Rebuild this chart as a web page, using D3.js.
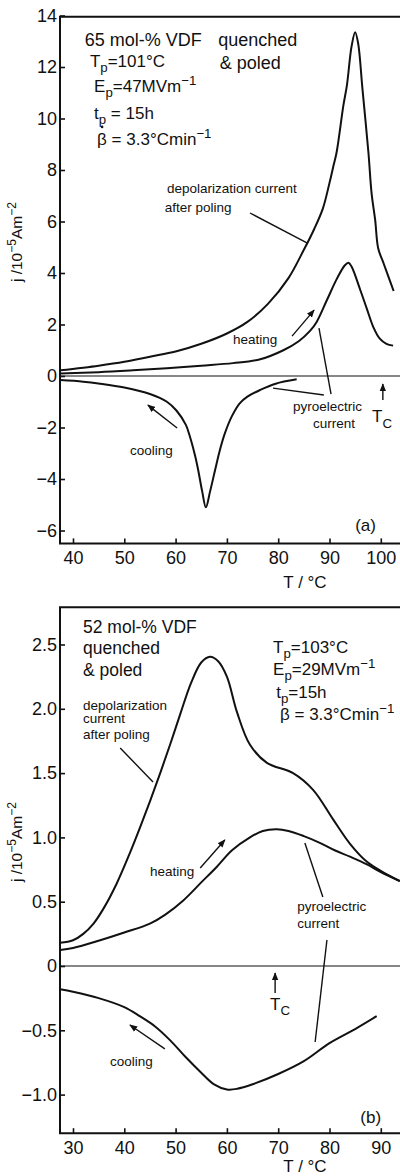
<!DOCTYPE html>
<html>
<head>
<meta charset="utf-8">
<script src="https://cdn.jsdelivr.net/npm/d3@7"></script>
<style>
  body { margin: 0; background: #fff; }
  text { font-family: "Liberation Sans", Arial, sans-serif; fill: #111; }
</style>
</head>
<body>
<svg id="chart" width="400" height="1176"></svg>
<script>
/// DATA - panel (a), 65 mol-% VDF ///  [T in °C, j in 1e-5 A m^-2]
var depolA = [[37.5,0.22],[45,0.4],[50,0.55],[55,0.75],[60,0.95],[65,1.25],[70,1.65],[74,2.1],[78,2.8],[82,3.8],[85,4.9],[87,5.7],[88.7,6.5],[90,7.5],[90.7,8.1],[91.4,8.7],[92.7,10.5],[93.4,11.3],[94.3,12.8],[95,13.35],[95.6,12.9],[96.4,11.2],[97.6,8.65],[98.2,7.1],[98.9,6.06],[99.5,4.95],[100.5,4.4],[101.5,3.85],[102.5,3.3]];
var heatA = [[37.5,0.1],[45,0.15],[51.7,0.22],[58.3,0.3],[65,0.4],[71.2,0.5],[76.5,0.65],[81,1.0],[84,1.35],[86.2,1.75],[87.5,2.1],[89.5,2.95],[91.5,3.8],[93,4.3],[93.7,4.4],[94.3,4.25],[96,3.34],[97.3,2.6],[98.5,1.92],[99.8,1.45],[101.1,1.25],[102.4,1.18]];
var coolA = [[37.5,-0.16],[42,-0.22],[45.3,-0.3],[50,-0.45],[55,-0.7],[58.3,-1.0],[60.2,-1.35],[62,-1.9],[62.8,-2.36],[63.8,-3.1],[64.4,-3.65],[65.2,-4.5],[65.9,-5.1],[66.7,-4.5],[67.7,-3.65],[68.6,-2.9],[69.6,-2.23],[71,-1.55],[72.5,-1.06],[74,-0.8],[76.5,-0.54],[79.5,-0.3],[83.6,-0.13]];
var xTicksA = [40, 50, 60, 70, 80, 90, 100];
var yTicksA = [-6, -4, -2, 0, 2, 4, 6, 8, 10, 12, 14];

/// DATA - panel (b), 52 mol-% VDF ///
var depolB = [[27.5,0.18],[30,0.2],[32,0.25],[34,0.33],[36,0.45],[38.5,0.64],[41,0.87],[43,1.07],[45,1.28],[47,1.5],[49,1.73],[51,1.97],[53,2.2],[55,2.36],[56.7,2.405],[58.3,2.37],[60,2.25],[62,1.97],[64.5,1.72],[67.8,1.58],[72.9,1.5],[76.8,1.37],[80.7,1.14],[84,0.95],[87.3,0.81],[90,0.74],[93.7,0.66]];
var heatB = [[27.5,0.125],[30,0.14],[35.3,0.2],[40,0.26],[45,0.33],[48,0.4],[51.5,0.51],[55,0.65],[58,0.77],[61,0.9],[64.5,1.0],[67,1.05],[69.7,1.063],[72,1.05],[75,1.01],[78,0.96],[81,0.9],[84,0.85],[87.3,0.79],[90,0.73],[93.7,0.66]];
var coolB = [[27.5,-0.18],[30,-0.2],[35,-0.25],[40,-0.32],[43,-0.39],[46,-0.47],[49,-0.58],[52,-0.71],[55,-0.83],[57.5,-0.92],[60,-0.96],[62,-0.955],[65,-0.92],[70,-0.84],[75,-0.74],[80,-0.6],[85,-0.49],[89.2,-0.39]];
var xTicksB = [30, 40, 50, 60, 70, 80, 90];
var yTicksB = [-1.0, -0.5, 0, 0.5, 1.0, 1.5, 2.0, 2.5];

var svg = d3.select("#chart");
var INK = "#111";

// arrow head marker
svg.append("defs").append("marker")
  .attr("id", "head")
  .attr("viewBox", "0 0 10 10")
  .attr("refX", 9).attr("refY", 5)
  .attr("markerWidth", 8).attr("markerHeight", 8)
  .attr("markerUnits", "userSpaceOnUse")
  .attr("orient", "auto")
  .append("path").attr("d", "M0,1 L10,5 L0,9 Z").attr("fill", INK);

// HELPER FUNCTION: text with sub/superscripts, parts = [[str, "sub"|"sup"|undefined], ...]
function richText(g, x, y, parts, size, anchor) {
  var t = g.append("text").attr("x", x).attr("y", y)
    .style("font-size", size + "px")
    .attr("text-anchor", anchor || "start");
  var cur = 0;
  parts.forEach(function (p) {
    var target = p[1] == "sub" ? size * 0.32 : p[1] == "sup" ? -size * 0.42 : 0;
    var s = t.append("tspan").text(p[0]).attr("dy", target - cur);
    if (p[1]) s.style("font-size", size * 0.78 + "px");
    cur = target;
  });
  return t;
}

// FUNCTION: draws one panel
function drawPanel(cfg) {
  var g = svg.append("g");
  var x = d3.scaleLinear().domain(cfg.xDom).range([73, 380.8]);
  var y = d3.scaleLinear().domain(cfg.yDom).range(cfg.yRange);
  var left = 60, right = 404;
  var top = y(cfg.yTop), bottom = y(cfg.yBottom);

  // frame (right side lies outside the picture)
  g.append("path")
    .attr("d", "M" + right + "," + top + "H" + left + "V" + bottom + "H" + right)
    .attr("fill", "none").attr("stroke", INK).attr("stroke-width", 2);

  // zero line
  g.append("line")
    .attr("x1", left).attr("x2", right)
    .attr("y1", y(0)).attr("y2", y(0))
    .attr("stroke", INK).attr("stroke-width", 1.2);

  // axes, ticks pointing inwards
  var xa = g.append("g").attr("transform", "translate(0," + bottom + ")")
    .call(d3.axisBottom(x).tickValues(cfg.xTicks).tickSize(-5).tickPadding(8));
  var ya = g.append("g").attr("transform", "translate(" + left + ",0)")
    .call(d3.axisLeft(y).tickValues(cfg.yTicks).tickSize(-5).tickPadding(3).tickFormat(cfg.yFmt));
  [xa, ya].forEach(function (a) {
    a.select(".domain").remove();
    a.selectAll(".tick line").attr("stroke", INK).attr("stroke-width", 1.6);
    a.selectAll(".tick text").style("font-size", "18px").style("font-family", "Liberation Sans, Arial, sans-serif").attr("fill", INK);
  });

  // axis titles
  g.append("text").attr("x", 305).attr("y", cfg.xTitleY)
    .attr("text-anchor", "middle").style("font-size", "17px").text("T / °C");
  var yt = richText(g, 0, 0, [["j /10"], ["−5", "sup"], ["Am"], ["−2", "sup"]], 15.5, "middle");
  yt.attr("transform", "translate(22," + cfg.yTitleY + ") rotate(-90)");

  // curves
  var line = d3.line()
    .x(function (d) { return x(d[0]); })
    .y(function (d) { return y(d[1]); })
    .curve(d3.curveCatmullRom.alpha(0.5));
  cfg.series.forEach(function (s) {
    g.append("path").datum(s)
      .attr("d", line)
      .attr("fill", "none").attr("stroke", INK).attr("stroke-width", 2);
  });

  // pointer lines and arrows
  cfg.pointers.forEach(function (p) {
    g.append("line")
      .attr("x1", x(p[0])).attr("y1", y(p[1]))
      .attr("x2", x(p[2])).attr("y2", y(p[3]))
      .attr("stroke", INK).attr("stroke-width", 1.4)
      .attr("marker-end", p[4] ? "url(#head)" : null);
  });

  // labels
  cfg.notes.forEach(function (n) {
    var t = richText(g, x(n[0]), y(n[1]), n[3], n[2]);
    // dot over beta (rate of heating) in panel (a)
    if (n[4]) {
      var b = t.node().getBBox();
      g.append("circle").attr("cx", b.x + 5).attr("cy", b.y + 1)
        .attr("r", 1.3).attr("fill", INK);
    }
  });
}

drawPanel({
  xDom: [40, 100], yDom: [0, 14], yRange: [376, 15.5],
  yTop: 13.95, yBottom: -6.5,
  xTicks: xTicksA, yTicks: yTicksA,
  yFmt: function (d) { return d < 0 ? "−" + Math.abs(d) : d; },
  xTitleY: 588, yTitleY: 242,
  series: [depolA, heatA, coolA],
  pointers: [
    [74.5, 6.33, 85.6, 5.17],
    [82.7, 1.55, 87.0, 2.56, true],
    [87.95, 1.86, 90.3, -0.7],
    [79.0, -0.47, 88.9, -0.74],
    [60.3, -2.02, 54.6, -1.13, true],
    [100.4, -0.93, 100.4, -0.31, true]
  ],
  notes: [
    [42.3, 12.82, 18, [["65 mol-% VDF"]]],
    [68.3, 12.82, 18, [["quenched"]]],
    [68.6, 11.92, 18, [["& poled"]]],
    [43.3, 12.0, 17, [["T"], ["p", "sub"], ["=101°C"]]],
    [44.1, 11.03, 17, [["E"], ["p", "sub"], ["=47MVm"], ["−1", "sup"]]],
    [44.1, 9.98, 17, [["t"], ["p", "sub"], [" = 15h"]]],
    [44.7, 8.97, 17, [["β = 3.3°Cmin"], ["−1", "sup"]], true],
    [58.3, 7.11, 13.5, [["depolarization current"]]],
    [57.9, 6.37, 13.5, [["after poling"]]],
    [71.2, 1.24, 13.5, [["heating"]]],
    [51.1, -3.07, 13.5, [["cooling"]]],
    [82.9, -1.36, 13.5, [["pyroelectric"]]],
    [86.8, -2.02, 13.5, [["current"]]],
    [98.3, -1.79, 17, [["T"], ["C", "sub"]]],
    [95.0, -6.02, 17, [["(a)"]]]
  ]
});

drawPanel({
  xDom: [30, 90], yDom: [0, 2.5], yRange: [966, 644.5],
  yTop: 2.79, yBottom: -1.3,
  xTicks: xTicksB, yTicks: yTicksB,
  yFmt: function (d) { return d == 0 ? "0" : (d < 0 ? "−" : "") + Math.abs(d).toFixed(1); },
  xTitleY: 1172, yTitleY: 842,
  series: [depolB, heatB, coolB],
  pointers: [
    [39.2, 1.695, 45.6, 1.431],
    [54.8, 0.762, 59.6, 0.98, true],
    [75.2, 0.956, 78.7, 0.537],
    [79.5, 0.202, 77.2, -0.591],
    [47.9, -0.645, 41.1, -0.459, true],
    [69.4, -0.21, 69.4, -0.054, true]
  ],
  notes: [
    [31.95, 2.589, 17.5, [["52 mol-% VDF"]]],
    [31.95, 2.426, 17.5, [["quenched"]]],
    [31.95, 2.255, 17.5, [["& poled"]]],
    [69.0, 2.434, 17, [["T"], ["p", "sub"], ["=103°C"]]],
    [69.0, 2.263, 17, [["E"], ["p", "sub"], ["=29MVm"], ["−1", "sup"]]],
    [69.6, 2.084, 17, [["t"], ["p", "sub"], ["=15h"]]],
    [70.35, 1.913, 17, [["β = 3.3°Cmin"], ["−1", "sup"]]],
    [31.95, 1.991, 13.5, [["depolarization"]]],
    [31.95, 1.89, 13.5, [["current"]]],
    [31.95, 1.765, 13.5, [["after poling"]]],
    [45.0, 0.70, 13.5, [["heating"]]],
    [73.7, 0.428, 13.5, [["pyroelectric"]]],
    [73.7, 0.295, 13.5, [["current"]]],
    [37.2, -0.778, 13.5, [["cooling"]]],
    [68.4, -0.342, 17, [["T"], ["C", "sub"]]],
    [86.0, -1.221, 17, [["(b)"]]]
  ]
});
</script>
</body>
</html>
